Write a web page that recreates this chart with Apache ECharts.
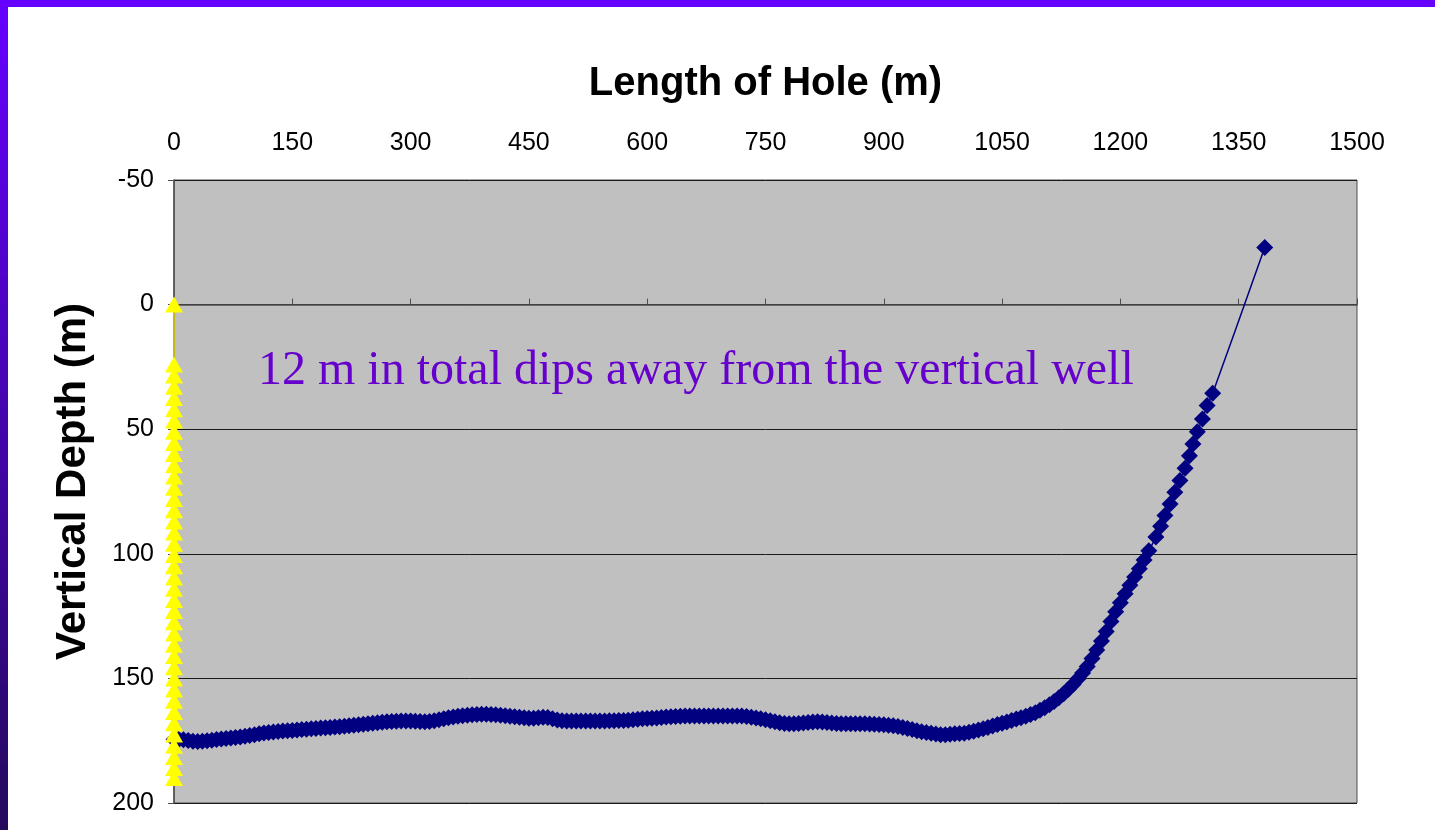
<!DOCTYPE html>
<html>
<head>
<meta charset="utf-8">
<title>Length of Hole</title>
<script src="https://cdn.jsdelivr.net/npm/echarts@6/dist/echarts.min.js"></script>
<style>
    html, body { margin: 0; padding: 0; background: #fff; }
    #chart { width: 1435px; height: 830px; }
</style>
</head>
<body>
<div id="chart"></div>
<script>
// horizontal well: length of hole (m) vs vertical depth (m)
var holeLength = [
    0, 6, 12, 18, 24, 30, 36, 42, 48, 54,
    60, 66, 72, 78, 84, 90, 96, 102, 108, 114,
    120, 126, 132, 138, 144, 150, 156, 162, 168, 174,
    180, 186, 192, 198, 204, 210, 216, 222, 228, 234,
    240, 246, 252, 258, 264, 270, 276, 282, 288, 294,
    300, 306, 312, 318, 324, 330, 336, 342, 348, 354,
    360, 366, 372, 378, 384, 390, 396, 402, 408, 414,
    420, 426, 432, 438, 444, 450, 456, 462, 468, 474,
    480, 486, 492, 498, 504, 510, 516, 522, 528, 534,
    540, 546, 552, 558, 564, 570, 576, 582, 588, 594,
    600, 606, 612, 618, 624, 630, 636, 642, 648, 654,
    660, 666, 672, 678, 684, 690, 696, 702, 708, 714,
    720, 726, 732, 738, 744, 750, 756, 762, 768, 774,
    780, 786, 792, 798, 804, 810, 816, 822, 828, 834,
    840, 846, 852, 858, 864, 870, 876, 882, 888, 894,
    900, 906, 912, 918, 924, 930, 936, 942, 948, 954,
    960, 966, 972, 978, 984, 990, 996, 1002, 1008, 1014,
    1020, 1026, 1032, 1038, 1044, 1050, 1056, 1062, 1068, 1074,
    1080, 1086, 1092, 1098, 1104, 1110, 1116, 1122, 1128, 1134,
    1140, 1146, 1152, 1158, 1164, 1170, 1176, 1182, 1188, 1194,
    1200, 1206, 1212, 1218, 1224, 1230, 1236,
    1245, 1251, 1256.5, 1263, 1269, 1275.5, 1282, 1287.5, 1292, 1297.5,
    1304, 1310, 1317, 1383
];
var holeDepth = [
    174.5, 174.5, 174.6, 174.9, 175.2, 175.3, 175.2, 175.0, 174.8, 174.5,
    174.3, 174.1, 173.9, 173.7, 173.5, 173.2, 172.9, 172.6, 172.2, 171.9,
    171.7, 171.5, 171.3, 171.1, 171.0, 170.9, 170.7, 170.5, 170.4, 170.2,
    170.1, 169.9, 169.8, 169.7, 169.5, 169.4, 169.2, 169.0, 168.8, 168.6,
    168.4, 168.2, 168.0, 167.8, 167.6, 167.4, 167.3, 167.2, 167.1, 167.1,
    167.1, 167.2, 167.3, 167.4, 167.3, 167.0, 166.6, 166.2, 165.8, 165.5,
    165.2, 165.0, 164.8, 164.6, 164.5, 164.4, 164.4, 164.5, 164.6, 164.8,
    165.0, 165.2, 165.4, 165.6, 165.8, 166.0, 166.0, 165.8, 165.6, 165.7,
    166.2, 166.7, 167.0, 167.1, 167.1, 167.1, 167.1, 167.1, 167.1, 167.1,
    167.1, 167.1, 167.0, 167.0, 166.9, 166.9, 166.8, 166.6, 166.4, 166.2,
    166.1, 166.0, 165.9, 165.7, 165.5, 165.4, 165.3, 165.2, 165.1, 165.1,
    165.1, 165.1, 165.1, 165.1, 165.1, 165.1, 165.1, 165.1, 165.1, 165.1,
    165.1, 165.3, 165.6, 165.9, 166.2, 166.6, 167.0, 167.4, 167.8, 168.1,
    168.2, 168.2, 168.1, 167.9, 167.7, 167.5, 167.4, 167.5, 167.7, 167.9,
    168.1, 168.2, 168.2, 168.2, 168.2, 168.2, 168.2, 168.3, 168.4, 168.5,
    168.6, 168.8, 169.0, 169.3, 169.7, 170.1, 170.5, 171.0, 171.4, 171.7,
    172.0, 172.3, 172.6, 172.6, 172.4, 172.2, 172.1, 172.0, 171.6, 171.2,
    170.7, 170.2, 169.7, 169.1, 168.5, 168.0, 167.5, 166.9, 166.3, 165.8,
    165.2, 164.5, 163.8, 162.8, 161.8, 160.6, 159.3, 157.8, 156.2, 154.4,
    152.4, 150.2, 147.8, 145.2, 142.0, 138.6, 135.0, 131.2, 127.2, 123.3,
    119.6, 116.0, 112.6, 109.3, 106.0, 102.5, 98.8,
    93.3, 88.9, 84.6, 80.0, 75.3, 70.6, 65.7, 60.7, 55.9, 51.0,
    45.9, 40.5, 35.6, -22.9
];
// vertical well, all at length 0
var wellDepth = [
    0, 24, 28.5, 33, 37.5, 42, 46.5, 51, 55.5, 60,
    64.5, 69, 73.5, 78, 82.5, 87, 91.5, 96, 100.5, 105,
    109.5, 114, 118.5, 123, 127.5, 132, 136.5, 141, 145.5, 150,
    154.5, 159, 163.5, 168, 172.5, 177, 181.5, 186, 190
];
var xTicks = [0, 150, 300, 450, 600, 750, 900, 1050, 1200, 1350, 1500];
var yTicks = [-50, 0, 50, 100, 150, 200];

var labelFont = 'Liberation Sans, Arial, sans-serif';

var myChart = echarts.init(document.getElementById('chart'));
myChart.setOption({
    animation: false,
    backgroundColor: '#fff',
    graphic: [
        {
            type: 'rect',
            shape: {x: 0, y: 0, width: 1435, height: 7},
            style: {fill: '#6600ff'}
        },
        {
            type: 'rect',
            shape: {x: 0, y: 0, width: 8, height: 830},
            style: {
                fill: new echarts.graphic.LinearGradient(0, 0, 0, 1, [
                    {offset: 0, color: '#6600ff'},
                    {offset: 1, color: '#240a5c'}
                ])
            }
        },
        {
            type: 'text',
            x: 258,
            y: 371,
            z: 10,
            style: {
                text: '12 m in total dips away from the vertical well',
                fill: '#6600cc',
                font: '48px "Liberation Serif", "Times New Roman", serif',
                align: 'left',
                verticalAlign: 'middle'
            }
        }
    ],
    grid: {
        left: 174,
        top: 180,
        right: 78,
        bottom: 27,
        show: true,
        backgroundColor: '#c0c0c0',
        borderColor: '#4d4d4d',
        borderWidth: 1
    },
    xAxis: {
        type: 'value',
        position: 'top',
        min: xTicks[0],
        max: xTicks[xTicks.length - 1],
        interval: xTicks[1] - xTicks[0],
        name: 'Length of Hole (m)',
        nameLocation: 'middle',
        nameGap: 76,
        nameTextStyle: {
            color: '#000',
            fontWeight: 'bold',
            fontSize: 40,
            fontFamily: labelFont
        },
        axisLine: {
            lineStyle: {color: '#4d4d4d', width: 1.5}
        },
        axisTick: {
            length: 6,
            lineStyle: {color: '#4d4d4d'}
        },
        axisLabel: {
            color: '#000',
            fontSize: 25,
            fontFamily: labelFont,
            margin: 24,
            formatter: function (v) {
                return String(v);
            }
        },
        splitLine: {show: false}
    },
    yAxis: {
        type: 'value',
        inverse: true,
        min: yTicks[0],
        max: yTicks[yTicks.length - 1],
        interval: yTicks[1] - yTicks[0],
        name: 'Vertical Depth (m)',
        nameLocation: 'middle',
        nameGap: 80,
        nameRotate: 90,
        nameTextStyle: {
            color: '#000',
            fontWeight: 'bold',
            fontSize: 42,
            fontFamily: labelFont,
            padding: [0, 0, 0, 20]
        },
        axisLine: {
            lineStyle: {color: '#4d4d4d', width: 1.5}
        },
        axisTick: {
            length: 6,
            lineStyle: {color: '#4d4d4d'}
        },
        axisLabel: {
            color: '#000',
            fontSize: 25,
            fontFamily: labelFont,
            margin: 20,
            formatter: function (v) {
                return String(v);
            }
        },
        splitLine: {
            lineStyle: {color: '#1a1a1a', width: 1}
        }
    },
    series: [
        {
            type: 'line',
            data: holeLength.map(function (len, i) {
                return [len, holeDepth[i]];
            }),
            smooth: 0.3,
            symbol: 'diamond',
            symbolSize: 17,
            showAllSymbol: true,
            clip: false,
            itemStyle: {color: '#000080'},
            lineStyle: {color: '#000080', width: 1.5}
        },
        {
            type: 'line',
            data: wellDepth.map(function (d) {
                return [0, d];
            }),
            symbol: 'triangle',
            symbolSize: [18, 16],
            showAllSymbol: true,
            clip: false,
            itemStyle: {color: '#ffff00'},
            lineStyle: {color: '#e6d800', width: 1.5}
        }
    ]
});
</script>
</body>
</html>
